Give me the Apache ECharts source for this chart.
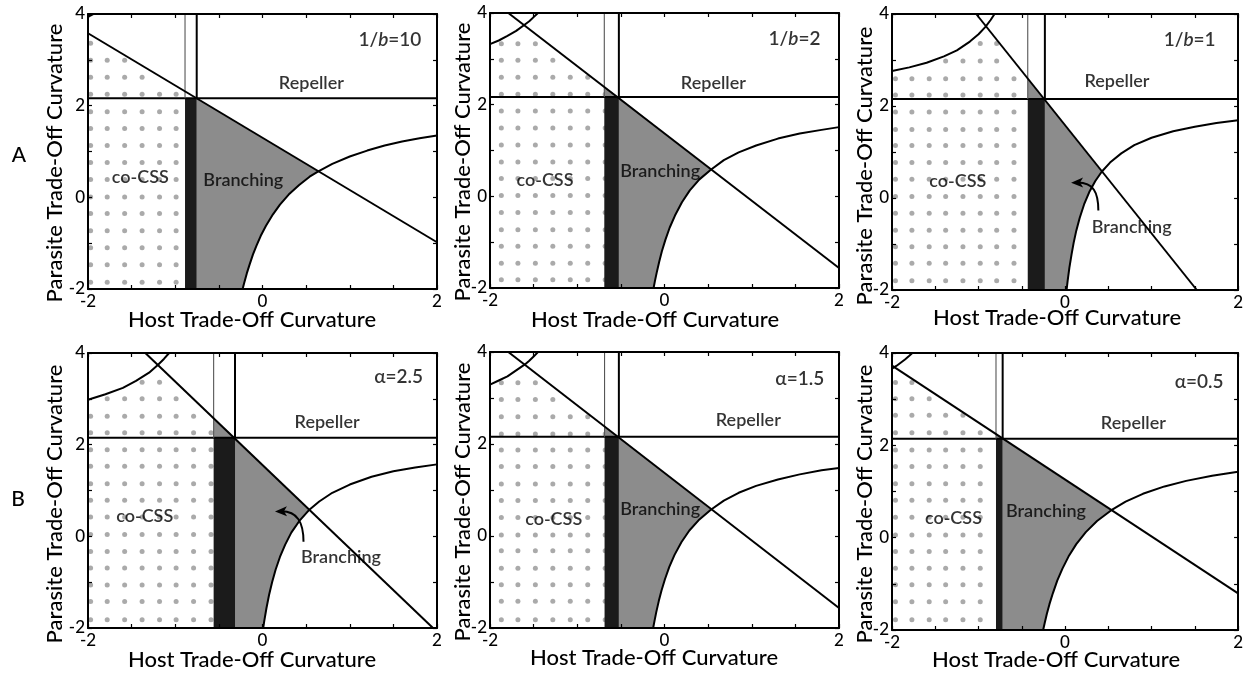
<!DOCTYPE html>
<html>
<head>
<meta charset="utf-8">
<script src="https://cdn.jsdelivr.net/npm/echarts@6/dist/echarts.min.js"></script>
<style>
  html, body { margin: 0; padding: 0; background: #fff; }
  #chart { width: 1246px; height: 675px; }
</style>
</head>
<body>
<div id="chart"></div>
<script>
// ---------- data ----------
const panelTags = ['1/b=10', '1/b=2', '1/b=1', 'α=2.5', 'α=1.5', 'α=0.5'];
const rowLetters = ['A', 'B'];
const xTitle = 'Host Trade-Off Curvature';
const yTitle = 'Parasite Trade-Off Curvature';
const xTickLabels = [-2, 0, 2];
const yTickLabels = [-2, 0, 2, 4];
const regionNames = ['co-CSS', 'Branching', 'Repeller'];

// left / right edge of the black strip (host curvature), and the repeller threshold (parasite curvature)
const barLeft  = [-0.888, -0.69, -0.431, -0.56, -0.687, -0.798];
const barRight = [-0.754, -0.523, -0.233, -0.315, -0.523, -0.721];
const repellerY = [2.16, 2.167, 2.152, 2.153, 2.157, 2.142];

// straight boundary, given by its two end points inside the frame
const diagonals = [
  [[-2, 3.58], [2, -0.98]],
  [[-1.79, 4], [2, -1.565]],
  [[-1.027, 4], [1.523, -2]],
  [[-1.343, 4], [1.954, -2]],
  [[-1.79, 4], [2, -1.566]],
  [[-2, 3.725], [2, -1.205]]
];
// where the straight boundary meets the lower curve
const crossings = [[0.64, 0.567], [0.531, 0.58], [0.424, 0.57], [0.53, 0.567], [0.531, 0.57], [0.531, 0.59]];

// lower-right branch of the curved boundary
const lowerCurves = [
  [[-0.228,-2.0],[-0.21,-1.87],[-0.18,-1.66],[-0.15,-1.48],[-0.11,-1.25],[-0.07,-1.06],[-0.02,-0.84],[0.04,-0.62],[0.12,-0.37],[0.2,-0.16],[0.3,0.06],[0.42,0.27],[0.54,0.45],[0.64,0.567],[0.8,0.73],[1.0,0.89],[1.2,1.02],[1.4,1.13],[1.6,1.22],[1.8,1.29],[2.0,1.35]],
  [[-0.125,-2.0],[-0.11,-1.85],[-0.09,-1.67],[-0.06,-1.42],[-0.03,-1.2],[0.01,-0.95],[0.06,-0.68],[0.12,-0.42],[0.2,-0.13],[0.29,0.13],[0.4,0.37],[0.531,0.58],[0.68,0.79],[0.85,0.96],[1.05,1.11],[1.3,1.26],[1.55,1.37],[1.8,1.45],[2.0,1.51]],
  [[0.018,-2.0],[0.03,-1.8],[0.05,-1.52],[0.075,-1.23],[0.1,-0.97],[0.13,-0.71],[0.17,-0.43],[0.22,-0.14],[0.28,0.13],[0.35,0.37],[0.424,0.57],[0.52,0.77],[0.65,0.97],[0.8,1.15],[1.0,1.31],[1.25,1.45],[1.5,1.55],[1.75,1.63],[2.0,1.69]],
  [[0.008,-2.0],[0.02,-1.85],[0.045,-1.57],[0.075,-1.28],[0.11,-1.0],[0.15,-0.73],[0.2,-0.45],[0.26,-0.18],[0.33,0.08],[0.42,0.33],[0.53,0.567],[0.65,0.76],[0.8,0.95],[1.0,1.13],[1.25,1.3],[1.5,1.42],[1.75,1.5],[2.0,1.57]],
  [[-0.13,-2.0],[-0.115,-1.85],[-0.095,-1.66],[-0.065,-1.41],[-0.035,-1.19],[0.005,-0.94],[0.055,-0.67],[0.115,-0.41],[0.195,-0.13],[0.285,0.12],[0.4,0.36],[0.531,0.57],[0.68,0.77],[0.85,0.94],[1.05,1.09],[1.3,1.23],[1.55,1.34],[1.8,1.43],[2.0,1.48]],
  [[-0.253,-2.0],[-0.235,-1.85],[-0.21,-1.65],[-0.18,-1.44],[-0.14,-1.2],[-0.09,-0.93],[-0.03,-0.67],[0.04,-0.41],[0.13,-0.14],[0.24,0.12],[0.37,0.36],[0.531,0.59],[0.7,0.78],[0.9,0.95],[1.15,1.11],[1.4,1.23],[1.7,1.34],[2.0,1.43]]
];
// upper-left branch of the curved boundary
const upperCurves = [
  [[-2,3.94],[-1.94,4.0]],
  [[-2,3.32],[-1.9,3.4],[-1.8,3.5],[-1.7,3.61],[-1.6,3.75],[-1.55,3.82],[-1.5,3.91],[-1.45,4.0]],
  [[-2,2.76],[-1.8,2.84],[-1.6,2.94],[-1.4,3.08],[-1.25,3.21],[-1.1,3.4],[-1.0,3.56],[-0.92,3.72],[-0.86,3.87],[-0.815,4.0]],
  [[-2,2.98],[-1.8,3.1],[-1.6,3.24],[-1.45,3.39],[-1.3,3.57],[-1.2,3.74],[-1.13,3.87],[-1.07,4.0]],
  [[-2,3.29],[-1.9,3.38],[-1.8,3.47],[-1.7,3.6],[-1.6,3.73],[-1.55,3.81],[-1.5,3.9],[-1.45,4.0]],
  [[-2,3.66],[-1.95,3.72],[-1.9,3.79],[-1.85,3.86],[-1.8,3.94],[-1.765,4.0]]
];
// top of the small grey wedge above the threshold, on the strip's left edge
const wedgeTops = [null, 2.39, 2.6, 2.58, 2.38, 2.24];

// dot texture of the co-CSS region
const dotCols = [
  [-1.97,-1.78,-1.58,-1.38,-1.18,-0.99],
  [-1.87,-1.68,-1.48,-1.28,-1.08,-0.88,-0.68],
  [-1.96,-1.77,-1.57,-1.38,-1.18,-0.98,-0.79,-0.59],
  [-1.97,-1.78,-1.58,-1.38,-1.18,-0.99,-0.79,-0.59],
  [-1.87,-1.68,-1.48,-1.28,-1.08,-0.88,-0.68],
  [-1.96,-1.77,-1.57,-1.38,-1.18,-0.98]
];
const dotRows = [
  [-1.85,-1.47,-1.1,-0.73,-0.35,0.01,0.39,0.76,1.13,1.5,1.87,2.25,2.62,2.99,3.36],
  [-1.82,-1.46,-1.09,-0.73,-0.35,0.02,0.39,0.75,1.12,1.49,1.86,2.23,2.6,2.97,3.33],
  [-1.8,-1.42,-1.06,-0.7,-0.33,0.03,0.41,0.77,1.14,1.49,1.87,2.24,2.59,2.98,3.36],
  [-1.82,-1.42,-1.06,-0.69,-0.33,0.04,0.42,0.79,1.15,1.53,1.89,2.26,2.62,3.0,3.36],
  [-1.82,-1.42,-1.06,-0.7,-0.32,0.02,0.4,0.77,1.13,1.51,1.87,2.22,2.59,2.97,3.33],
  [-1.78,-1.39,-1.02,-0.66,-0.3,0.06,0.44,0.81,1.17,1.54,1.9,2.27,2.65,3.01,3.36]
];

// label anchors (data coordinates)
const tagPos       = [[1.46,3.43],[1.49,3.43],[1.44,3.43],[1.56,3.49],[1.55,3.42],[1.55,3.37]];
const repellerPos  = [[0.56,2.49],[0.56,2.47],[0.6,2.53],[0.74,2.49],[0.96,2.52],[0.79,2.48]];
const cocssPos     = [[-1.4,0.45],[-1.37,0.35],[-1.24,0.37],[-1.35,0.43],[-1.27,0.36],[-1.29,0.42]];
const branchingPos = [[-0.22,0.38],[-0.05,0.54],[0.77,-0.64],[0.9,-0.45],[-0.05,0.58],[-0.22,0.57]];
// curved pointer from a label into the branching region: start, control 1, control 2, tip
const arrowPaths = [
  null, null,
  [[0.385,-0.27],[0.385,0.12],[0.33,0.34],[0.07,0.333]],
  [[0.47,-0.12],[0.47,0.3],[0.4,0.55],[0.143,0.544]],
  null, null
];

// ---------- layout ----------
const FONT = 'Lato, "Noto Sans", sans-serif';
const WEIGHT = 500;
const LABEL_WEIGHT = 600;
const INK = '#000';
const gridLeft = [88, 490, 892, 88, 490, 892];
const gridTop = [14, 13, 14, 353, 352, 353];
const gridHeight = [275, 275, 276, 275, 276, 277];
const gridWidth = 349;
const xTitlePos = [[252, 320], [655, 320], [1057, 318], [252, 660], [654, 658], [1056, 660]];
const yTitlePos = [[55, 163], [463, 162], [865, 166], [55, 504], [463, 502], [865, 504]];
const letterPos = [[19, 155], [18, 499]];

// ---------- helpers ----------
function diagAt(p, x) {
  const [[ax, ay], [bx, by]] = diagonals[p];
  return ay + (by - ay) * (x - ax) / (bx - ax);
}
function upperAt(p, x) {
  const u = upperCurves[p];
  if (x > u[u.length - 1][0]) return Infinity;
  if (x <= u[0][0]) return u[0][1];
  for (let i = 1; i < u.length; i++) {
    if (x <= u[i][0]) {
      const t = (x - u[i - 1][0]) / (u[i][0] - u[i - 1][0]);
      return u[i - 1][1] + t * (u[i][1] - u[i - 1][1]);
    }
  }
  return Infinity;
}
function polygonSeries(p, pts, fill, z) {
  return {
    type: 'custom', xAxisIndex: 2 * p, yAxisIndex: 2 * p, z: z, silent: true, clip: true,
    data: [[0, 0]],
    renderItem: (params, api) => ({
      type: 'polygon',
      shape: { points: pts.map(q => api.coord(q)) },
      style: { fill: fill, stroke: null }
    })
  };
}
function lineSeries(p, data, width, color, z) {
  return {
    type: 'line', xAxisIndex: 2 * p, yAxisIndex: 2 * p, data: data, z: z || 4,
    symbol: 'none', silent: true, clip: true, animation: false, smooth: false,
    lineStyle: { color: color || INK, width: width, join: 'round' }
  };
}
function tagFormatter(t) {
  if (t.indexOf('1/b') === 0) return '{n|1/}{i|b}{n|' + t.slice(3) + '}';
  return '{n|' + t + '}';
}
function textStyle(size, weight) {
  return { fontSize: size, fontFamily: FONT, fontWeight: weight || WEIGHT, color: INK };
}

// ---------- build ----------
const grids = [], xAxes = [], yAxes = [], series = [], graphics = [];

for (let p = 0; p < 6; p++) {
  grids.push({ left: gridLeft[p], top: gridTop[p], width: gridWidth, height: gridHeight[p], containLabel: false });

  const tickStyle = { show: true, inside: true, length: 4, lineStyle: { color: INK, width: 1.2 } };
  const lineStyle = { show: true, onZero: false, lineStyle: { color: INK, width: 2 } };
  xAxes.push({
    gridIndex: p, type: 'value', position: 'bottom', min: -2, max: 2, interval: 0.5, z: 8,
    axisLine: lineStyle, axisTick: tickStyle, splitLine: { show: false },
    axisLabel: Object.assign(textStyle(17), {
      margin: 4, showMinLabel: true, showMaxLabel: true,
      formatter: v => xTickLabels.some(t => Math.abs(t - v) < 1e-9) ? String(v) : ''
    })
  });
  xAxes.push({
    gridIndex: p, type: 'value', position: 'top', min: -2, max: 2, interval: 0.5, z: 8,
    axisLine: lineStyle, axisTick: tickStyle, splitLine: { show: false }, axisLabel: { show: false }
  });
  yAxes.push({
    gridIndex: p, type: 'value', position: 'left', min: -2, max: 4, interval: 1, z: 8,
    axisLine: lineStyle, axisTick: tickStyle, splitLine: { show: false },
    axisLabel: Object.assign(textStyle(17), {
      margin: 3, showMinLabel: true, showMaxLabel: true,
      formatter: v => yTickLabels.some(t => Math.abs(t - v) < 1e-9) ? String(v) : ''
    })
  });
  yAxes.push({
    gridIndex: p, type: 'value', position: 'right', min: -2, max: 4, interval: 1, z: 8,
    axisLine: lineStyle, axisTick: tickStyle, splitLine: { show: false }, axisLabel: { show: false }
  });

  // dot texture of the co-CSS region
  const dots = [];
  dotCols[p].forEach(cx => {
    dotRows[p].forEach(ry => {
      if (cx < barLeft[p] + 0.03 && ry < diagAt(p, cx) - 0.05 && ry < upperAt(p, cx) - 0.05) dots.push([cx, ry]);
    });
  });
  series.push({
    type: 'scatter', xAxisIndex: 2 * p, yAxisIndex: 2 * p, data: dots, z: 1, silent: true,
    symbol: 'circle', symbolSize: 5, itemStyle: { color: '#959595' }
  });

  // branching region (grey)
  const br = [[barRight[p], -2], [barRight[p], repellerY[p]], crossings[p]];
  lowerCurves[p].filter(q => q[0] < crossings[p][0]).reverse().forEach(q => br.push(q));
  series.push(polygonSeries(p, br, '#8c8c8c', 2));

  // small grey wedge above the threshold
  if (wedgeTops[p] !== null) {
    series.push(polygonSeries(p, [[barLeft[p], repellerY[p]], [barRight[p], repellerY[p]], [barLeft[p], wedgeTops[p]]], '#8c8c8c', 2));
  }

  // black strip
  series.push(polygonSeries(p, [[barLeft[p], -2], [barRight[p], -2], [barRight[p], repellerY[p]], [barLeft[p], repellerY[p]]], '#1b1b1b', 3));

  // boundaries
  series.push(lineSeries(p, [[-2, repellerY[p]], [2, repellerY[p]]], 2));
  series.push(lineSeries(p, [[barLeft[p], repellerY[p]], [barLeft[p], 4]], 1.1, '#555'));
  series.push(lineSeries(p, [[barRight[p], repellerY[p]], [barRight[p], 4]], 2));
  series.push(lineSeries(p, diagonals[p], 2));
  series.push(lineSeries(p, lowerCurves[p], 2));
  series.push(lineSeries(p, upperCurves[p], 2));

  // region labels
  const lab = (pos, text, rich, size) => ({
    value: pos,
    label: Object.assign(textStyle(size || 18, LABEL_WEIGHT), { show: true, position: 'inside', formatter: rich || text })
  });
  series.push({
    type: 'scatter', xAxisIndex: 2 * p, yAxisIndex: 2 * p, z: 6, silent: true,
    symbolSize: 1, itemStyle: { color: 'rgba(0,0,0,0)' },
    label: {
      show: true, position: 'inside',
      rich: {
        n: textStyle(19, LABEL_WEIGHT),
        i: Object.assign(textStyle(19, LABEL_WEIGHT), { fontStyle: 'italic' })
      }
    },
    data: [
      lab(cocssPos[p], regionNames[0]),
      lab(branchingPos[p], regionNames[1]),
      lab(repellerPos[p], regionNames[2]),
      lab(tagPos[p], panelTags[p], tagFormatter(panelTags[p]), 19)
    ]
  });

  // curved pointer
  if (arrowPaths[p]) {
    const ap = arrowPaths[p];
    series.push({
      type: 'custom', xAxisIndex: 2 * p, yAxisIndex: 2 * p, z: 7, silent: true, data: [[0, 0]],
      renderItem: (params, api) => {
        const [s, c1, c2, t] = ap.map(q => api.coord(q));
        const dx = t[0] - c2[0], dy = t[1] - c2[1];
        const len = Math.hypot(dx, dy) || 1;
        const ux = dx / len, uy = dy / len;
        const L = 12, W = 5;
        const bx = t[0] - ux * L, by = t[1] - uy * L;
        return {
          type: 'group',
          children: [
            {
              type: 'bezierCurve',
              shape: { x1: s[0], y1: s[1], cpx1: c1[0], cpy1: c1[1], cpx2: c2[0], cpy2: c2[1], x2: t[0] - ux * 6, y2: t[1] - uy * 6 },
              style: { stroke: INK, lineWidth: 2, fill: null }
            },
            {
              type: 'polygon',
              shape: { points: [t, [bx - uy * W, by + ux * W], [bx + ux * 3, by + uy * 3], [bx + uy * W, by - ux * W]] },
              style: { fill: INK }
            }
          ]
        };
      }
    });
  }

  // axis titles
  graphics.push({
    type: 'text', x: xTitlePos[p][0], y: xTitlePos[p][1], silent: true,
    style: { text: xTitle, font: WEIGHT + ' 22px ' + FONT, fill: INK, textAlign: 'center', textVerticalAlign: 'middle', align: 'center', verticalAlign: 'middle' }
  });
  graphics.push({
    type: 'text', x: yTitlePos[p][0], y: yTitlePos[p][1], rotation: Math.PI / 2, silent: true,
    style: { text: yTitle, font: WEIGHT + ' 22px ' + FONT, fill: INK, textAlign: 'center', textVerticalAlign: 'middle', align: 'center', verticalAlign: 'middle' }
  });
}

rowLetters.forEach((t, i) => {
  graphics.push({
    type: 'text', x: letterPos[i][0], y: letterPos[i][1], silent: true,
    style: { text: t, font: WEIGHT + ' 21px ' + FONT, fill: INK, textAlign: 'center', textVerticalAlign: 'middle', align: 'center', verticalAlign: 'middle' }
  });
});

const chart = echarts.init(document.getElementById('chart'), null, { renderer: 'canvas' });
chart.setOption({
  animation: false,
  backgroundColor: '#fff',
  grid: grids,
  xAxis: xAxes,
  yAxis: yAxes,
  series: series,
  graphic: graphics
});
</script>
</body>
</html>
